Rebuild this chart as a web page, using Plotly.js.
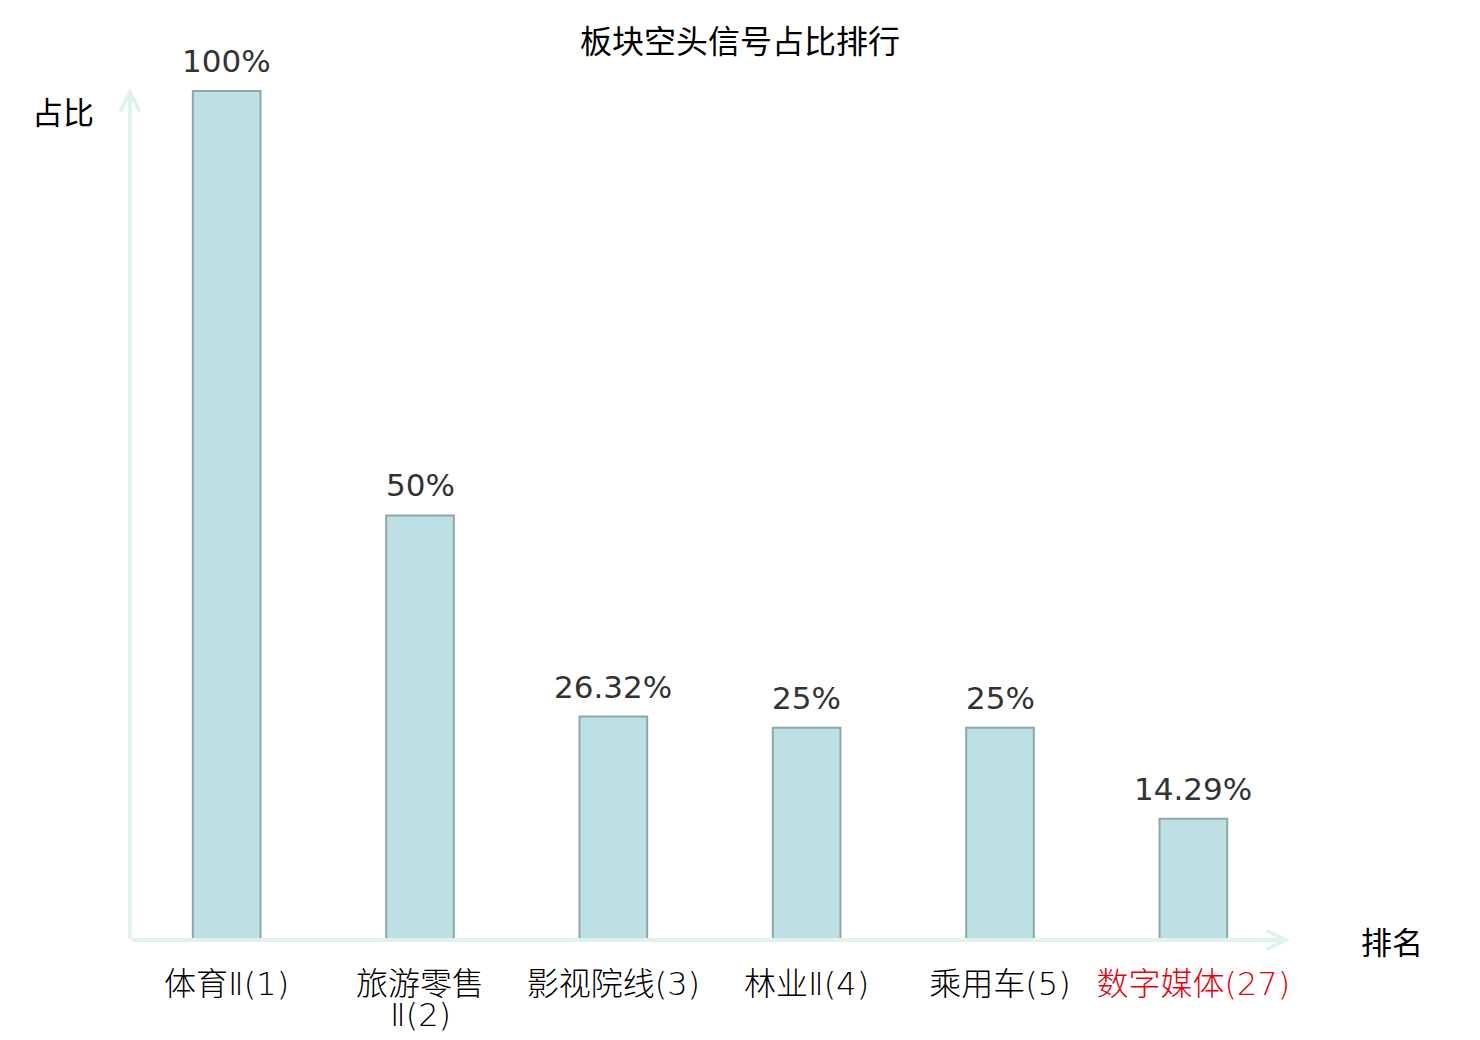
<!DOCTYPE html>
<html>
<head>
<meta charset="utf-8">
<script src="https://cdn.plot.ly/plotly-3.0.1.min.js"></script>
<style>
  body { margin: 0; background: #fff; }
  #chart { width: 1480px; height: 1040px; }
</style>
</head>
<body>
<div id="chart"></div>
<script>
// data
const categories = ["体育Ⅱ(1)", "旅游零售Ⅱ(2)", "影视院线(3)", "林业Ⅱ(4)", "乘用车(5)", "数字媒体(27)"];
const tickLabels = ["体育Ⅱ(1)", "旅游零售", "影视院线(3)", "林业Ⅱ(4)", "乘用车(5)",
  '<span style="color:#e8000b">数字媒体(27)</span>'];
// wrapped remainder of a long tick label (drawn a bit tighter than <br> allows)
const tickSecondLines = ["", "Ⅱ(2)", "", "", "", ""];
const shares = [100, 50, 26.32, 25, 25, 14.29];
const shareLabels = ["100%", "50%", "26.32%", "25%", "25%", "14.29%"];

const cjk = '"Noto Sans CJK SC", "DejaVu Sans", sans-serif';
const mixed = '"DejaVu Sans", "Noto Sans CJK SC", sans-serif';
const num = '"DejaVu Sans", sans-serif';
const axisColor = "#dff2ef";
const tickFont = {family: mixed, size: 32, weight: 200, color: "#000"};

const trace = {
  type: "bar",
  x: categories,
  y: shares,
  width: 0.35,
  marker: {
    color: "#bce0e3",
    line: {color: "#8ea8a9", width: 2}
  },
  hoverinfo: "none"
};

// value labels above bars
const valueNotes = categories.map((c, i) => ({
  x: c,
  y: shares[i],
  xref: "x",
  yref: "y",
  text: shareLabels[i],
  showarrow: false,
  xanchor: "center",
  yanchor: "bottom",
  yshift: 10,
  font: {family: num, size: 31, color: "#333333"}
}));

const wrapNotes = categories
  .map((c, i) => ({c, t: tickSecondLines[i]}))
  .filter(d => d.t !== "")
  .map(d => ({
    x: d.c, xref: "x",
    y: 0, yref: "paper",
    xanchor: "center", yanchor: "middle",
    yshift: -75,
    text: d.t, showarrow: false,
    font: tickFont
  }));

const axisNotes = [
  // x axis with arrow
  {
    xref: "paper", yref: "paper", x: 1, y: 0,
    axref: "pixel", ayref: "pixel", ax: -1160, ay: 0,
    text: "", showarrow: true, arrowhead: 5, arrowsize: 0.95,
    arrowwidth: 4, arrowcolor: axisColor, standoff: 0, startstandoff: 0
  },
  // y axis with arrow
  {
    xref: "paper", yref: "paper", x: 0, y: 1,
    axref: "pixel", ayref: "pixel", ax: 0, ay: 852,
    text: "", showarrow: true, arrowhead: 5, arrowsize: 0.95,
    arrowwidth: 4, arrowcolor: axisColor, standoff: 0, startstandoff: 0
  },
  {
    xref: "paper", yref: "paper", x: -0.0578, y: 0.974,
    xanchor: "center", yanchor: "middle",
    text: "占比", showarrow: false,
    font: {family: cjk, size: 31, color: "#000"}
  },
  {
    xref: "paper", yref: "paper", x: 1.088, y: 0,
    xanchor: "center", yanchor: "middle",
    text: "排名", showarrow: false,
    font: {family: cjk, size: 31, color: "#000"}
  }
];

const layout = {
  width: 1480,
  height: 1040,
  margin: {l: 130, r: 190, t: 88, b: 100},
  paper_bgcolor: "#fff",
  plot_bgcolor: "#fff",
  showlegend: false,
  title: {
    text: "板块空头信号占比排行",
    x: 0.5, xanchor: "center",
    y: 1 - 42 / 1040, yanchor: "middle",
    font: {family: cjk, size: 32, color: "#000"}
  },
  xaxis: {
    type: "category",
    range: [-0.5, 5.5],
    tickmode: "array",
    tickvals: categories,
    ticktext: tickLabels,
    ticks: "outside",
    ticklen: 16,
    tickcolor: "rgba(0,0,0,0)",
    showline: false,
    showgrid: false,
    zeroline: false,
    tickfont: tickFont
  },
  yaxis: {
    range: [0, 100.35],
    showticklabels: false,
    showgrid: false,
    zeroline: false,
    showline: false,
    ticks: ""
  },
  annotations: valueNotes.concat(wrapNotes, axisNotes)
};

Plotly.newPlot("chart", [trace], layout, {staticPlot: true});
</script>
</body>
</html>
